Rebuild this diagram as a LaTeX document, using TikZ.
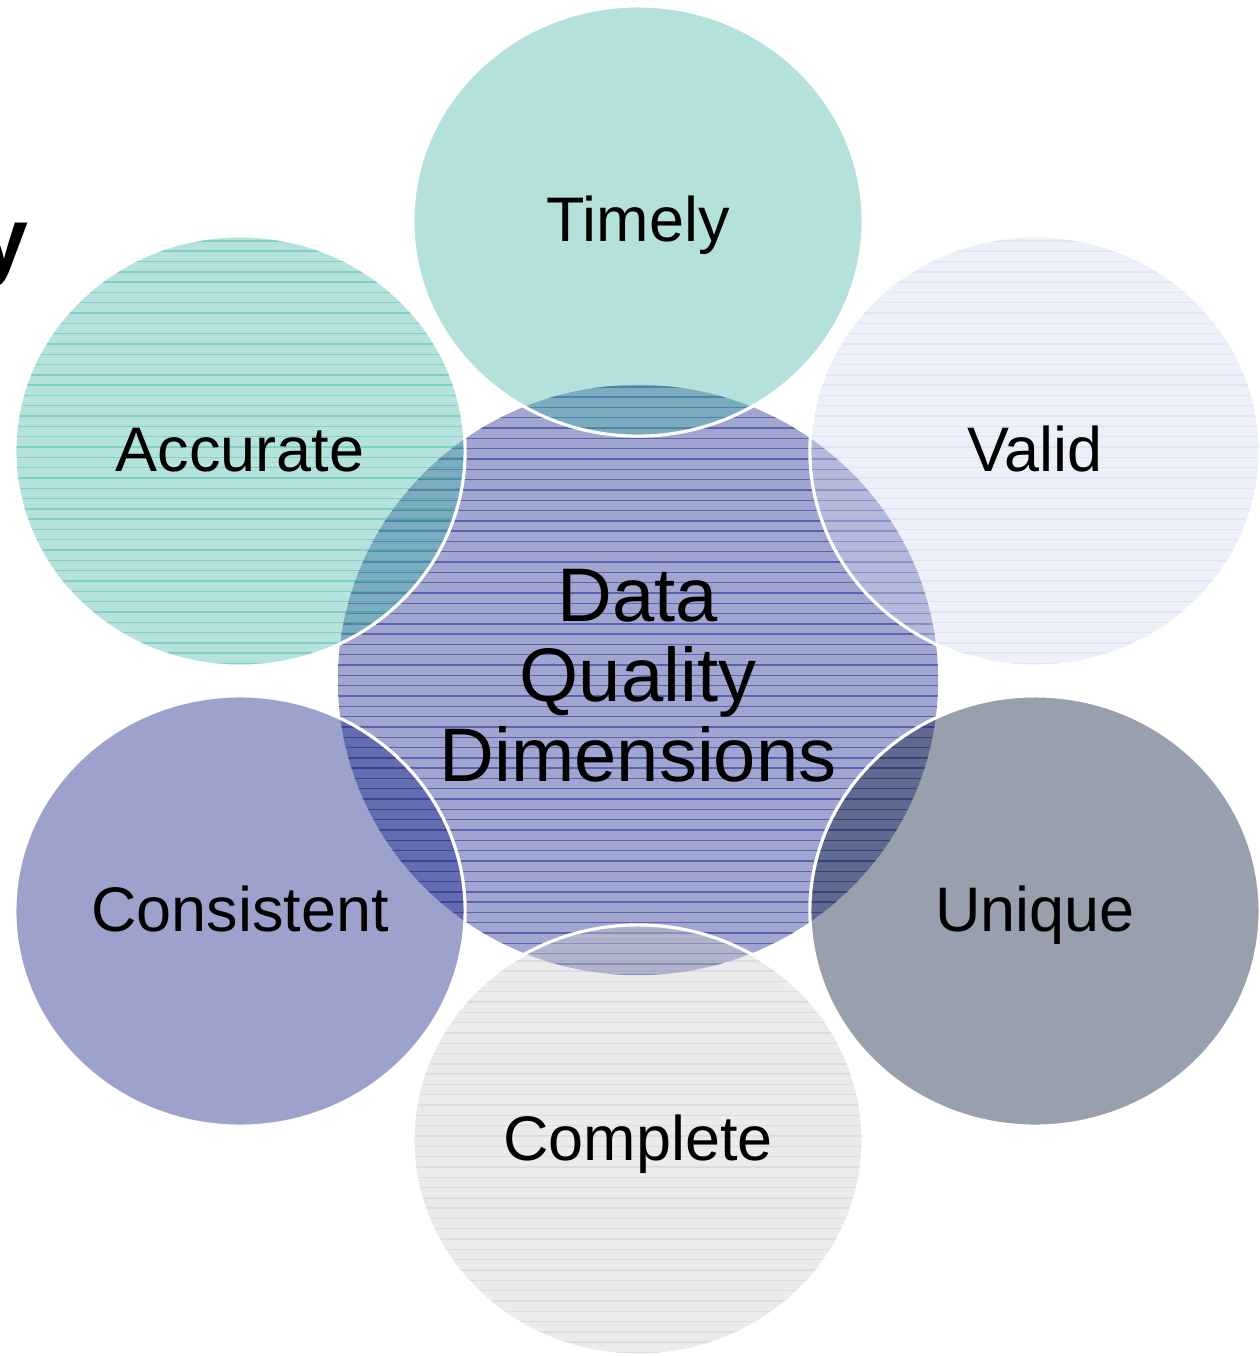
\documentclass[tikz,border=0pt]{standalone}
\usepackage{fontspec}
\setmainfont{Liberation Sans}
\usetikzlibrary{shapes.geometric}
\definecolor{cCenter}{RGB}{161,166,208}
\definecolor{cCenterLine}{RGB}{60,72,160}
\definecolor{cTimely}{RGB}{67,180,167}
\definecolor{cAccurate}{RGB}{70,182,167}
\definecolor{cAccLine}{RGB}{0,160,140}
\definecolor{cValid}{RGB}{210,217,240}
\definecolor{cValidLine}{RGB}{150,170,225}
\definecolor{cConsistent}{RGB}{10,22,130}
\definecolor{cUnique}{RGB}{0,18,50}
\definecolor{cComplete}{RGB}{205,205,205}
\definecolor{cCompLine}{RGB}{140,140,140}
\tikzset{
  bubble/.style={ellipse, minimum width=4.5cm, minimum height=4.3cm, inner sep=0pt,
    draw=white, line width=0.9pt, fill opacity=0.4, text opacity=1,
    font=\fontsize{17.9}{20}\selectfont, text height=0.45cm, text depth=0.05cm},
  hatch/.style n args={3}{path picture={
    \foreach \k in {0,...,60}{
      \draw[draw=#1, line width=0.4pt, draw opacity=#2]
        ([yshift=-\k*0.103cm-#3]path picture bounding box.north west) --
        ([yshift=-\k*0.103cm-#3]path picture bounding box.north east);}}},
  core/.style={ellipse, minimum width=6.0cm, minimum height=5.9cm, inner sep=0pt, draw=none},
  coretext/.style={align=center, inner sep=0pt, font=\fontsize{21.6}{22.8}\selectfont},
}
\begin{document}
\begin{tikzpicture}[x=0.01cm,y=-0.01cm]
\useasboundingbox (0,0) rectangle (1259,1356);
% partial title letter at the left edge
\node[font=\fontsize{25}{30}\selectfont\bfseries, anchor=base east, inner sep=0pt] (ttl) at (29,269) {y};
% central ellipse
\node[core, fill=cCenter, hatch={cCenterLine}{0.7}{0.02cm}] (dq) at (638,680) {};
% surrounding ellipses
\node[bubble, fill=cTimely] (timely) at (638,221) {Timely};
\node[bubble, fill=cAccurate, hatch={cAccLine}{0.28}{0.05cm}] (accurate) at (240,451) {Accurate};
\node[bubble, fill=cValid, hatch={cValidLine}{0.15}{0.05cm}] (valid) at (1035,451) {Valid};
\node[bubble, fill=cConsistent] (consistent) at (240,911) {Consistent};
\node[bubble, fill=cUnique] (unique) at (1035,911) {Unique};
\node[bubble, fill=cComplete, hatch={cCompLine}{0.15}{0.05cm}] (complete) at (638,1140) {Complete};
% central label
\node[coretext] (dqtext) at (638,676) {Data\\Quality\\Dimensions};
\end{tikzpicture}
\end{document}
